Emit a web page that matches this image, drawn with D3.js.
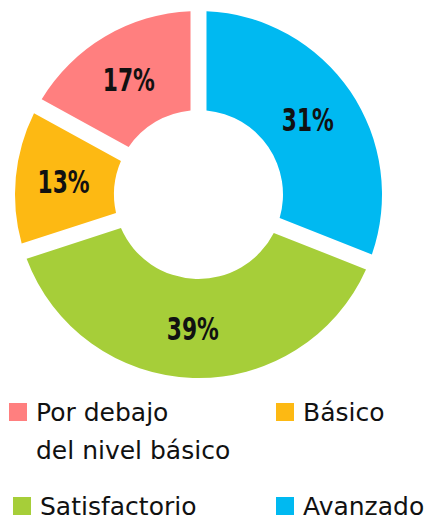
<!DOCTYPE html>
<html>
<head>
<meta charset="utf-8">
<script src="https://cdn.jsdelivr.net/npm/d3@7"></script>
<style>
  body { margin: 0; background: #fff; }
  svg { display: block; }
</style>
</head>
<body>
<script>
// data, clockwise from 12 o'clock
var categories = ["Avanzado", "Satisfactorio", "Básico", "Por debajo del nivel básico"];
var values = [31, 39, 13, 17];
var colors = ["#00B9F1", "#A6CE39", "#FDB913", "#FF7F7F"];

// legend: order and text lines
var legendOrder = [3, 2, 1, 0];
var legendLines = [["Avanzado"], ["Satisfactorio"], ["Básico"], ["Por debajo", "del nivel básico"]];

function main() {
  var width = 429;
  var height = 518;

  var svg = d3.select("body")
    .append("svg")
    .attr("width", width)
    .attr("height", height);

  var cx = 198.5, cy = 194.5;
  var outerR = 183.5, innerR = 84.5;

  var pie = d3.pie()
    .sort(null)
    .value(function(d) { return d; });

  var arc = d3.arc()
    .innerRadius(innerR)
    .outerRadius(outerR)
    .padRadius(100)
    .padAngle(0.16);

  var labelArc = d3.arc()
    .innerRadius(innerR)
    .outerRadius(outerR);

  var g = svg.append("g").attr("transform", "translate(" + cx + "," + cy + ")");

  var slices = g.selectAll("g.slice")
    .data(pie(values))
    .enter()
    .append("g")
    .attr("class", "slice");

  slices.append("path")
    .attr("d", arc)
    .attr("fill", function(d, i) { return colors[i]; });

  // condensed bold look: squeeze horizontally
  slices.append("text")
    .attr("transform", function(d) {
      var c = labelArc.centroid(d);
      return "translate(" + (c[0] - 1.5) + "," + c[1] + ") scale(0.68,1)";
    })
    .attr("text-anchor", "middle")
    .attr("dy", "0.36em")
    .attr("font-family", "'DejaVu Sans', sans-serif")
    .attr("font-weight", "bold")
    .attr("font-size", 32)
    .attr("fill", "#111")
    .text(function(d) { return d.data + "%"; });

  // legend grid: 2 columns x 2 rows
  var colX = [9, 276];
  var rowY = [403, 497];
  var legend = svg.append("g").attr("class", "legend");

  legendOrder.forEach(function(idx, k) {
    var col = k % 2, row = Math.floor(k / 2);
    var x = colX[col] + (col === 0 && row === 1 ? 4 : 0);
    var y = rowY[row];
    var item = legend.append("g").attr("transform", "translate(" + x + "," + y + ")");
    item.append("rect")
      .attr("width", 18)
      .attr("height", 18)
      .attr("fill", colors[idx]);
    var t = item.append("text")
      .attr("x", 27)
      .attr("y", 18)
      .attr("font-family", "'DejaVu Sans', sans-serif")
      .attr("font-size", 25)
      .attr("fill", "#111");
    legendLines[idx].forEach(function(line, j) {
      t.append("tspan")
        .attr("x", 27)
        .attr("dy", j === 0 ? 0 : 38)
        .text(line);
    });
  });
}

main();
</script>
</body>
</html>
